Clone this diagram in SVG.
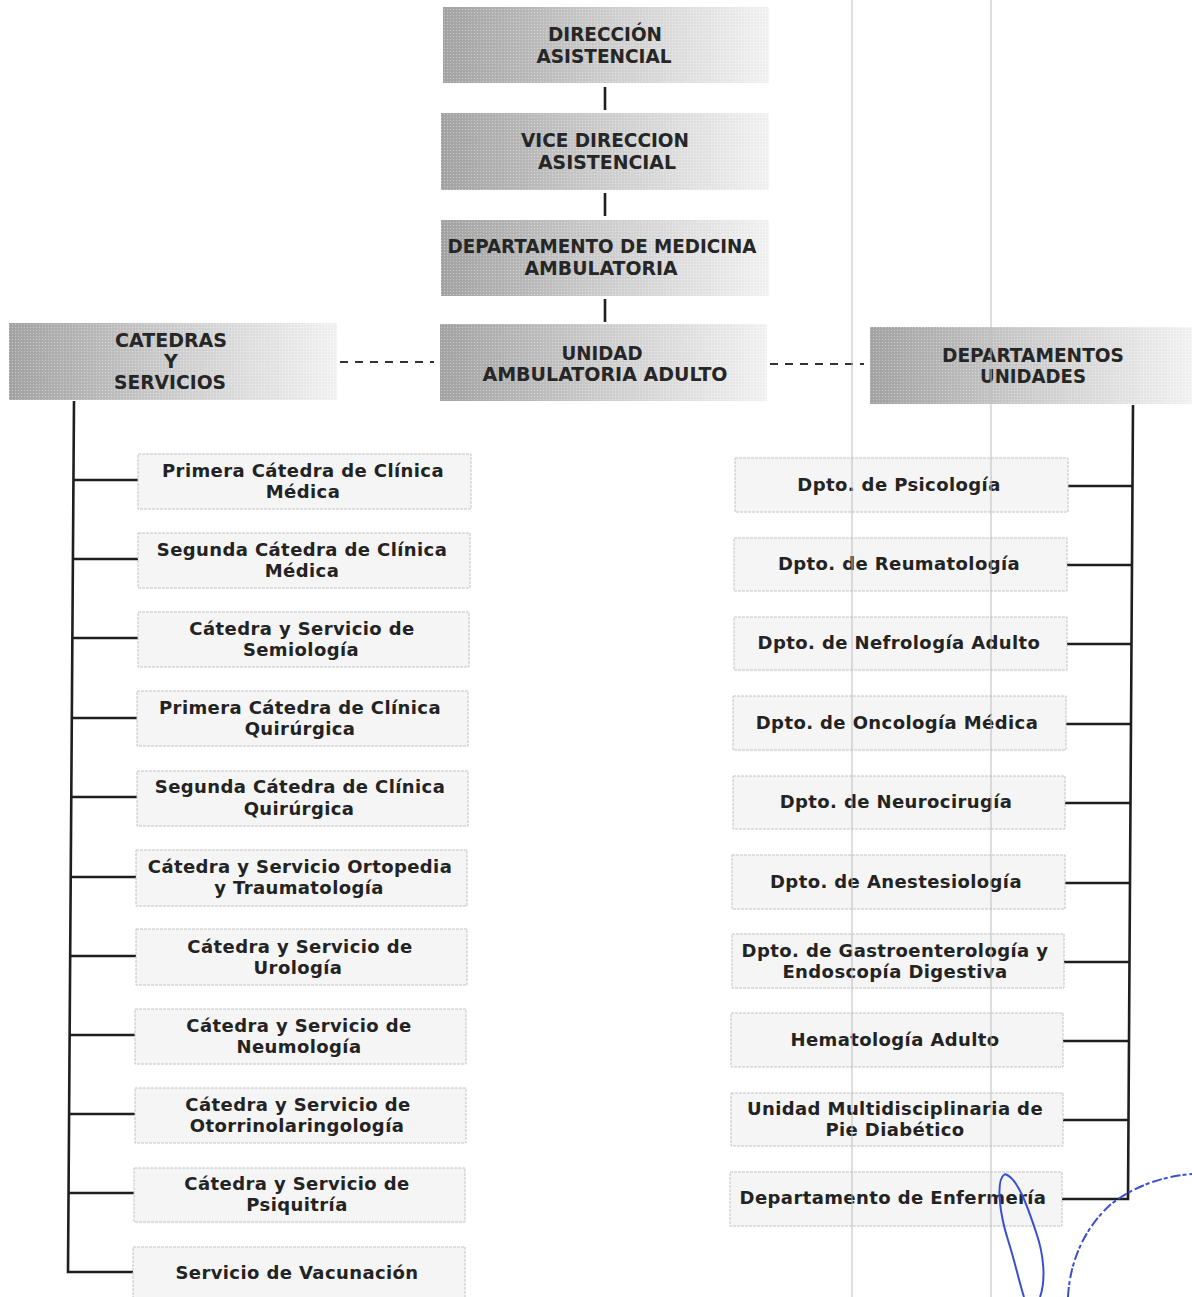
<svg xmlns="http://www.w3.org/2000/svg" width="1192" height="1297" viewBox="0 0 1192 1297">
<defs>
<linearGradient id="hg" x1="0" y1="0" x2="1" y2="0">
<stop offset="0" stop-color="#a4a4a4"/>
<stop offset="0.45" stop-color="#cbcbcb"/>
<stop offset="1" stop-color="#f4f4f4"/>
</linearGradient>
<pattern id="dots" width="3" height="3" patternUnits="userSpaceOnUse">
<rect width="1" height="1" fill="#ffffff" opacity="0.35"/>
<rect x="1.5" y="1.5" width="1" height="1" fill="#000000" opacity="0.08"/>
</pattern>
<style>
.hb{fill:url(#hg);}
.tx{fill:url(#dots);}
.ht{font-family:"DejaVu Sans",sans-serif;font-weight:bold;font-size:19px;fill:#262626;text-anchor:middle;}
.lb{fill:#f5f5f5;stroke:#c4c4c4;stroke-width:1;stroke-dasharray:3 1;}
.lt{font-family:"DejaVu Sans",sans-serif;font-weight:bold;font-size:18px;letter-spacing:0.4px;fill:#232323;text-anchor:middle;}
.cn{stroke:#1e1e1e;stroke-width:2.6;fill:none;}
.dash{stroke:#333;stroke-width:2.2;stroke-dasharray:8 7;fill:none;}
.scan{stroke:#bdbdbd;stroke-width:1;fill:none;}
.ink{stroke:#3a4fd0;stroke-width:2;fill:none;}
</style>
</defs>
<rect width="1192" height="1297" fill="#ffffff"/>

<g id="connectors">
<line class="cn" x1="605" y1="87" x2="605" y2="110"/>
<line class="cn" x1="605" y1="193" x2="605" y2="216"/>
<line class="cn" x1="605" y1="299" x2="605" y2="322"/>
<line class="dash" x1="340" y1="362" x2="434" y2="362"/>
<line class="dash" x1="770" y1="364" x2="864" y2="364"/>
<polyline class="cn" points="74,401 68,1272 133,1272"/>
<line class="cn" x1="74" y1="480" x2="138" y2="480"/>
<line class="cn" x1="73" y1="559" x2="138" y2="559"/>
<line class="cn" x1="73" y1="638" x2="138" y2="638"/>
<line class="cn" x1="72" y1="718" x2="137" y2="718"/>
<line class="cn" x1="72" y1="797" x2="137" y2="797"/>
<line class="cn" x1="71" y1="877" x2="136" y2="877"/>
<line class="cn" x1="70" y1="956" x2="136" y2="956"/>
<line class="cn" x1="70" y1="1035" x2="135" y2="1035"/>
<line class="cn" x1="69" y1="1114" x2="135" y2="1114"/>
<line class="cn" x1="69" y1="1193" x2="134" y2="1193"/>
<polyline class="cn" points="1133,405 1128,1199 1062,1199"/>
<line class="cn" x1="1068" y1="486" x2="1133" y2="486"/>
<line class="cn" x1="1067" y1="565" x2="1132" y2="565"/>
<line class="cn" x1="1067" y1="644" x2="1132" y2="644"/>
<line class="cn" x1="1066" y1="724" x2="1131" y2="724"/>
<line class="cn" x1="1065" y1="803" x2="1131" y2="803"/>
<line class="cn" x1="1065" y1="883" x2="1130" y2="883"/>
<line class="cn" x1="1064" y1="962" x2="1130" y2="962"/>
<line class="cn" x1="1063" y1="1041" x2="1129" y2="1041"/>
<line class="cn" x1="1063" y1="1120" x2="1129" y2="1120"/>
</g>

<g id="n-direccion"><rect class="hb" x="443" y="7" width="326" height="76"/><rect class="tx" x="443" y="7" width="326" height="76"/>
<text class="ht" x="605" y="41" textLength="114" lengthAdjust="spacingAndGlyphs">DIRECCIÓN</text>
<text class="ht" x="604" y="63" textLength="135" lengthAdjust="spacingAndGlyphs">ASISTENCIAL</text></g>

<g id="n-vice"><rect class="hb" x="441" y="113" width="328" height="77"/><rect class="tx" x="441" y="113" width="328" height="77"/>
<text class="ht" x="605" y="147" textLength="168" lengthAdjust="spacingAndGlyphs">VICE DIRECCION</text>
<text class="ht" x="607" y="169" textLength="138" lengthAdjust="spacingAndGlyphs">ASISTENCIAL</text></g>

<g id="n-depto"><rect class="hb" x="441" y="220" width="328" height="76"/><rect class="tx" x="441" y="220" width="328" height="76"/>
<text class="ht" x="602" y="253" textLength="309" lengthAdjust="spacingAndGlyphs">DEPARTAMENTO DE MEDICINA</text>
<text class="ht" x="601" y="275" textLength="153" lengthAdjust="spacingAndGlyphs">AMBULATORIA</text></g>

<g id="n-unidad"><rect class="hb" x="440" y="324" width="327" height="77"/><rect class="tx" x="440" y="324" width="327" height="77"/>
<text class="ht" x="602" y="360" textLength="81" lengthAdjust="spacingAndGlyphs">UNIDAD</text>
<text class="ht" x="605" y="381" textLength="245" lengthAdjust="spacingAndGlyphs">AMBULATORIA ADULTO</text></g>

<g id="n-catedras"><rect class="hb" x="9" y="323" width="328" height="77"/><rect class="tx" x="9" y="323" width="328" height="77"/>
<text class="ht" x="171" y="347" textLength="112" lengthAdjust="spacingAndGlyphs">CATEDRAS</text>
<text class="ht" x="171" y="368">Y</text>
<text class="ht" x="170" y="389" textLength="112" lengthAdjust="spacingAndGlyphs">SERVICIOS</text></g>

<g id="n-departamentos"><rect class="hb" x="870" y="327" width="322" height="77"/><rect class="tx" x="870" y="327" width="322" height="77"/>
<text class="ht" x="1033" y="362" textLength="182" lengthAdjust="spacingAndGlyphs">DEPARTAMENTOS</text>
<text class="ht" x="1033" y="383" textLength="106" lengthAdjust="spacingAndGlyphs">UNIDADES</text></g>

<g id="l1"><rect class="lb" x="138" y="454" width="333" height="55"/><text class="lt" x="303" y="477">Primera Cátedra de Clínica</text><text class="lt" x="303" y="498">Médica</text></g>
<g id="l2"><rect class="lb" x="138" y="533" width="332" height="55"/><text class="lt" x="302" y="556">Segunda Cátedra de Clínica</text><text class="lt" x="302" y="577">Médica</text></g>
<g id="l3"><rect class="lb" x="138" y="612" width="331" height="55"/><text class="lt" x="302" y="635">Cátedra y Servicio de</text><text class="lt" x="301" y="656">Semiología</text></g>
<g id="l4"><rect class="lb" x="137" y="691" width="331" height="55"/><text class="lt" x="300" y="714">Primera Cátedra de Clínica</text><text class="lt" x="300" y="735">Quirúrgica</text></g>
<g id="l5"><rect class="lb" x="137" y="771" width="331" height="55"/><text class="lt" x="300" y="793">Segunda Cátedra de Clínica</text><text class="lt" x="299" y="815">Quirúrgica</text></g>
<g id="l6"><rect class="lb" x="136" y="850" width="331" height="56"/><text class="lt" x="300" y="873">Cátedra y Servicio Ortopedia</text><text class="lt" x="299" y="894">y Traumatología</text></g>
<g id="l7"><rect class="lb" x="136" y="929" width="331" height="56"/><text class="lt" x="300" y="953">Cátedra y Servicio de</text><text class="lt" x="298" y="974">Urología</text></g>
<g id="l8"><rect class="lb" x="135" y="1009" width="331" height="55"/><text class="lt" x="299" y="1032">Cátedra y Servicio de</text><text class="lt" x="299" y="1053">Neumología</text></g>
<g id="l9"><rect class="lb" x="135" y="1088" width="331" height="55"/><text class="lt" x="298" y="1111">Cátedra y Servicio de</text><text class="lt" x="297" y="1132">Otorrinolaringología</text></g>
<g id="l10"><rect class="lb" x="134" y="1168" width="331" height="54"/><text class="lt" x="297" y="1190">Cátedra y Servicio  de</text><text class="lt" x="297" y="1211">Psiquitría</text></g>
<g id="l11"><rect class="lb" x="133" y="1247" width="332" height="60"/><text class="lt" x="297" y="1279">Servicio de Vacunación</text></g>

<g id="r1"><rect class="lb" x="735" y="458" width="333" height="54"/><text class="lt" x="899" y="491">Dpto. de Psicología</text></g>
<g id="r2"><rect class="lb" x="734" y="538" width="333" height="53"/><text class="lt" x="899" y="570">Dpto. de Reumatología</text></g>
<g id="r3"><rect class="lb" x="734" y="617" width="333" height="53"/><text class="lt" x="899" y="649">Dpto. de Nefrología Adulto</text></g>
<g id="r4"><rect class="lb" x="733" y="696" width="333" height="54"/><text class="lt" x="897" y="729">Dpto. de Oncología Médica</text></g>
<g id="r5"><rect class="lb" x="733" y="776" width="332" height="53"/><text class="lt" x="896" y="808">Dpto. de Neurocirugía</text></g>
<g id="r6"><rect class="lb" x="732" y="855" width="333" height="54"/><text class="lt" x="896" y="888">Dpto. de Anestesiología</text></g>
<g id="r7"><rect class="lb" x="732" y="934" width="332" height="54"/><text class="lt" x="895" y="957">Dpto. de Gastroenterología y</text><text class="lt" x="895" y="978">Endoscopía Digestiva</text></g>
<g id="r8"><rect class="lb" x="731" y="1013" width="332" height="54"/><text class="lt" x="895" y="1046">Hematología Adulto</text></g>
<g id="r9"><rect class="lb" x="731" y="1093" width="332" height="53"/><text class="lt" x="895" y="1115">Unidad Multidisciplinaria de</text><text class="lt" x="895" y="1136">Pie Diabético</text></g>
<g id="r10"><rect class="lb" x="730" y="1172" width="332" height="54"/><text class="lt" x="893" y="1204">Departamento de Enfermería</text></g>

<line class="scan" x1="852" y1="0" x2="852" y2="1297"/>
<line class="scan" x1="991" y1="0" x2="991" y2="1297"/>

<path class="ink" d="M1005,1174 C995,1180 1000,1215 1008,1240 C1015,1262 1020,1285 1024,1297 M1040,1297 C1046,1280 1044,1255 1036,1232 C1028,1208 1018,1178 1005,1174"/>
<path class="ink" stroke-width="1.6" stroke-dasharray="10 2 4 3" d="M1068,1297 C1070,1260 1085,1228 1110,1205 C1135,1185 1165,1176 1192,1174"/>
</svg>
